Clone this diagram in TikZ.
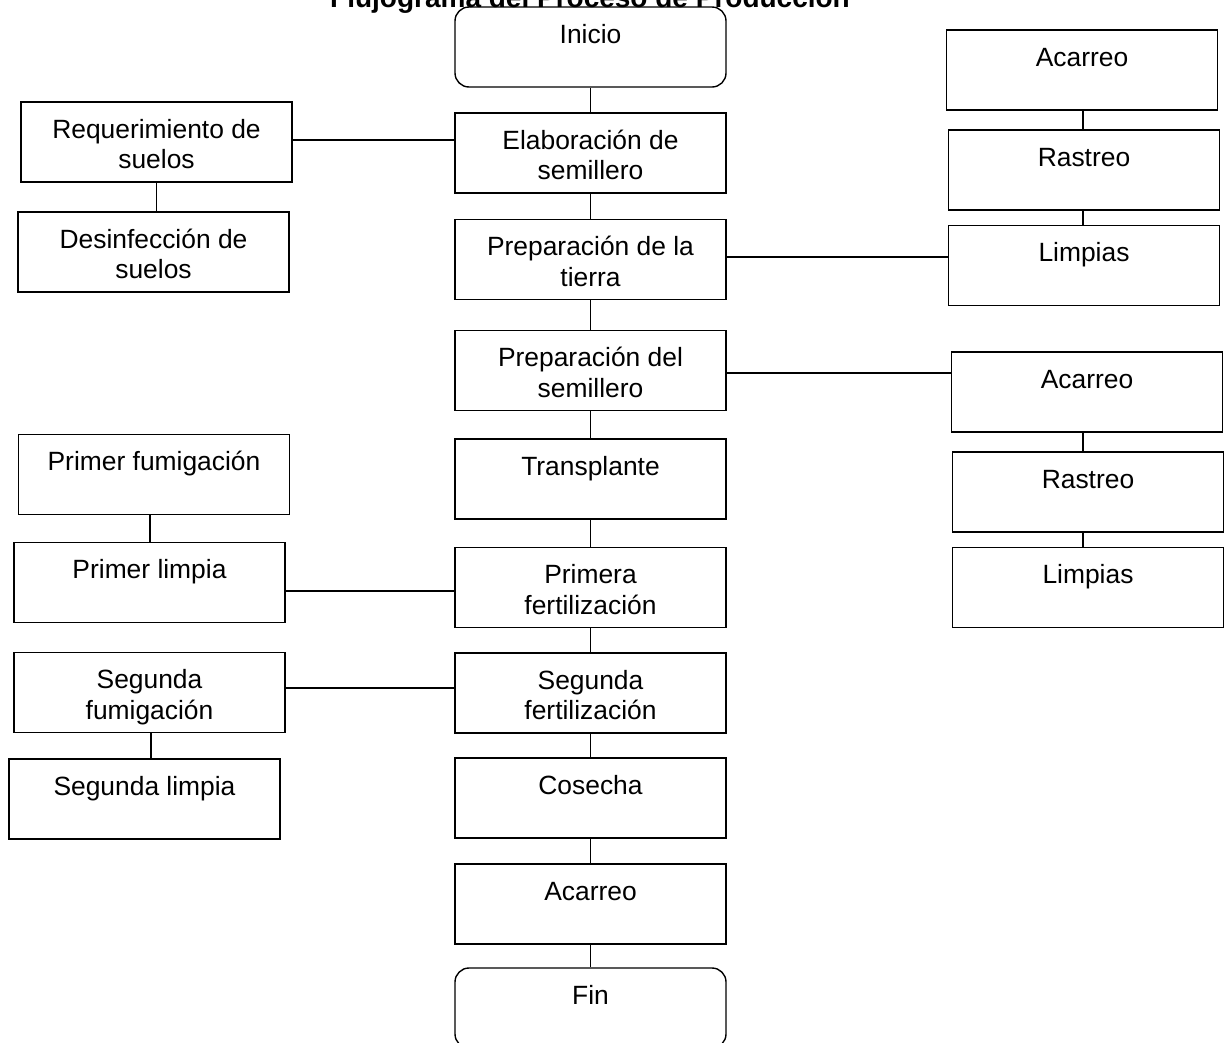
\documentclass[tikz,border=0pt]{standalone}
\usepackage{fontspec}
\setmainfont{Liberation Sans}
\newcommand{\btext}[1]{\parbox[c][80pt][t]{271pt}{\centering\rule{0pt}{36pt}#1}}
\begin{document}
\begin{tikzpicture}[x=1pt,y=-1pt,
  box/.style={draw, line width=1.4pt, inner sep=0pt, minimum width=271pt, minimum height=80pt,
    font=\fontsize{26.4}{30.5}\selectfont},
  rbox/.style={box, rounded corners=14pt},
  conn/.style={line width=1.4pt}]
\useasboundingbox (0,0) rectangle (1225,1042);
\node[anchor=base, font=\bfseries\fontsize{28}{32}\selectfont] (title) at (590,7) {Flujograma del Proceso de Producción};
% central column
\node[rbox] (ini) at (590.5,47) {\btext{Inicio}};
\node[box] (elab) at (590.5,153) {\btext{Elaboración de\\semillero}};
\node[box] (ptierra) at (590.5,259.5) {\btext{Preparación de la\\tierra}};
\node[box] (psem) at (590.5,370.5) {\btext{Preparación del\\semillero}};
\node[box] (trans) at (590.5,479) {\btext{Transplante}};
\node[box] (pfert) at (590.5,587.5) {\btext{Primera\\fertilización}};
\node[box] (sfert) at (590.5,693) {\btext{Segunda\\fertilización}};
\node[box] (cos) at (590.5,798) {\btext{Cosecha}};
\node[box] (acarc) at (590.5,904) {\btext{Acarreo}};
\node[rbox] (fin) at (590.5,1008) {\btext{Fin}};
% left column
\node[box] (req) at (156.5,142) {\btext{Requerimiento de\\suelos}};
\node[box] (desinf) at (153.5,252) {\btext{Desinfección de\\suelos}};
\node[box] (pfum) at (154,474.5) {\btext{Primer fumigación}};
\node[box] (plim) at (149.5,582.5) {\btext{Primer limpia}};
\node[box] (sfum) at (149.5,692.5) {\btext{Segunda\\fumigación}};
\node[box] (slim) at (144.5,799) {\btext{Segunda limpia}};
% right column
\node[box] (acar1) at (1082,70) {\btext{Acarreo}};
\node[box] (ras1) at (1084,170) {\btext{Rastreo}};
\node[box] (lim1) at (1084,265.5) {\btext{Limpias}};
\node[box] (acar2) at (1087,392) {\btext{Acarreo}};
\node[box] (ras2) at (1088,492) {\btext{Rastreo}};
\node[box] (lim2) at (1088,587.5) {\btext{Limpias}};
% central connectors
\foreach \a/\b in {ini/elab, elab/ptierra, ptierra/psem, psem/trans, trans/pfert, pfert/sfert, sfert/cos, cos/acarc, acarc/fin}
  \draw[conn] (\a.south) -- (\b.north);
% side vertical connectors
\draw[conn] (req.south) -- (req.south |- desinf.north);
\draw[conn] ([xshift=-4pt]pfum.south) -- ([xshift=-4pt]pfum.south |- plim.north);
\draw[conn] ([xshift=1.5pt]sfum.south) -- ([xshift=1.5pt]sfum.south |- slim.north);
\draw[conn] ([xshift=1pt]acar1.south) -- ([xshift=1pt]acar1.south |- ras1.north);
\draw[conn] ([xshift=-1pt]ras1.south) -- ([xshift=-1pt]ras1.south |- lim1.north);
\draw[conn] ([xshift=-4pt]acar2.south) -- ([xshift=-4pt]acar2.south |- ras2.north);
\draw[conn] ([xshift=-5pt]ras2.south) -- ([xshift=-5pt]ras2.south |- lim2.north);
% horizontal connectors
\coordinate (h1) at (0,140);
\coordinate (h2) at (0,257);
\coordinate (h3) at (0,373);
\coordinate (h4) at (0,591);
\coordinate (h5) at (0,688);
\draw[conn] (req.east |- h1) -- (elab.west |- h1);
\draw[conn] (ptierra.east |- h2) -- (lim1.west |- h2);
\draw[conn] (psem.east |- h3) -- (acar2.west |- h3);
\draw[conn] (plim.east |- h4) -- (pfert.west |- h4);
\draw[conn] (sfum.east |- h5) -- (sfert.west |- h5);
\end{tikzpicture}
\end{document}
